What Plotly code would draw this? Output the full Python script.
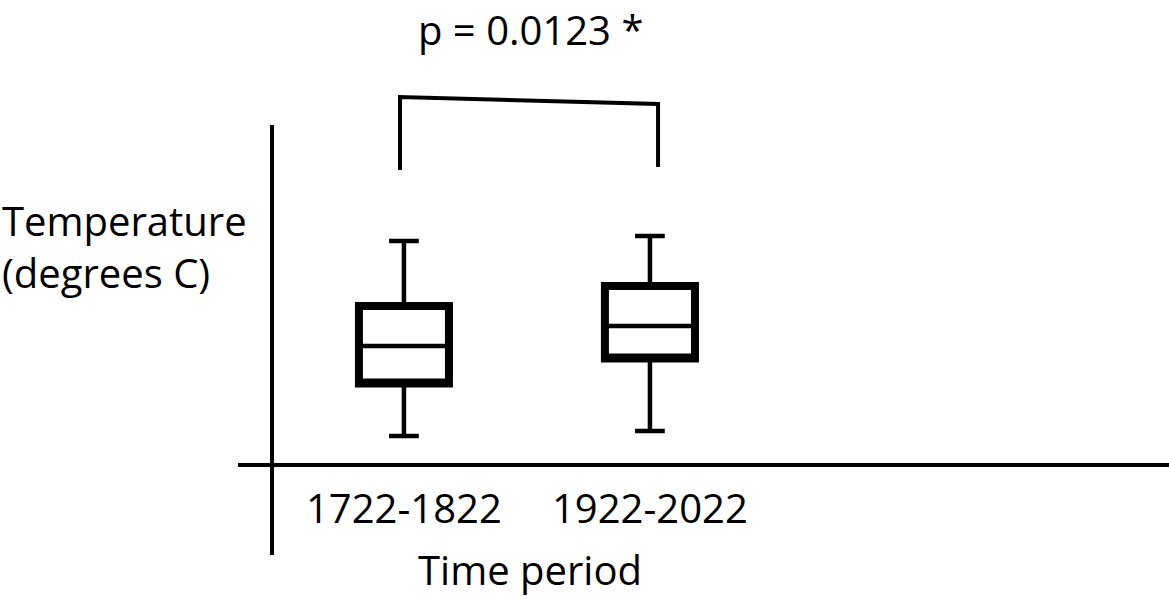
import plotly.graph_objects as go

# ---- data (arbitrary temperature units) ----
periods = ["1722-1822", "1922-2022"]
lower_whisker = [8.4, 8.6]
q1 = [10.5, 11.5]
median = [12.0, 12.8]
q3 = [13.6, 14.4]
upper_whisker = [16.2, 16.4]
p_label = "p = 0.0123 *"
y_title_lines = ["Temperature", "(degrees C)"]
x_title = "Time period"

FONT = "Open Sans"
FS = 40

fig = go.Figure()

# thin strokes: whiskers, caps and median
fig.add_trace(go.Box(
    x=periods, q1=q1, median=median, q3=q3,
    lowerfence=lower_whisker, upperfence=upper_whisker,
    width=0.366, whiskerwidth=0.33,
    fillcolor="white", line=dict(color="black", width=4.5),
    boxpoints=False, hoverinfo="skip", showlegend=False,
))
# thick box outline drawn over it
fig.add_trace(go.Box(
    x=periods, q1=q1, median=q1, q3=q3,
    lowerfence=q1, upperfence=q3,
    width=0.366, whiskerwidth=0,
    fillcolor="rgba(0,0,0,0)", line=dict(color="black", width=8),
    boxpoints=False, hoverinfo="skip", showlegend=False,
))

line = dict(color="black", width=4)
# hand-drawn axes (decorations)
fig.add_shape(type="line", xref="paper", yref="paper",
              x0=0.2327, x1=0.2327, y0=0.7913, y1=0.0735, line=line)
fig.add_shape(type="line", xref="paper", yref="paper",
              x0=0.2036, x1=1.0, y0=0.2237, y1=0.2237, line=line)
# significance bracket between the two groups
fig.add_shape(type="path", xref="x", yref="y",
              path="M -0.016,19.04 L -0.016,21.96 L 1.033,21.68 L 1.033,19.16",
              line=dict(color="black", width=4))

font = dict(family=FONT, size=FS, color="black")
fig.add_annotation(text=p_label, xref="paper", yref="paper", x=0.4534, y=1.0,
                   xanchor="center", yanchor="top", showarrow=False, font=font)
fig.add_annotation(text="<br>".join(y_title_lines), xref="paper", yref="paper",
                   x=0.0, y=0.589, xanchor="left", yanchor="middle", align="left",
                   showarrow=False, font=font)
for per in periods:
    fig.add_annotation(text=per, xref="x", yref="paper", x=per, y=0.152,
                       xanchor="center", yanchor="middle", showarrow=False, font=font)
fig.add_annotation(text=x_title, xref="paper", yref="paper", x=0.4534, y=0.0,
                   xanchor="center", yanchor="bottom", showarrow=False, font=font)

fig.update_layout(
    width=1169, height=599,
    margin=dict(l=0, r=0, t=0, b=0),
    paper_bgcolor="white", plot_bgcolor="white",
    xaxis=dict(type="category", range=[-1.642, 3.110], showgrid=False,
               zeroline=False, showticklabels=False, showline=False, ticks=""),
    yaxis=dict(range=[1.88, 25.84], showgrid=False, zeroline=False,
               showticklabels=False, showline=False, ticks=""),
    boxmode="overlay",
)

fig.write_html("out.html")
